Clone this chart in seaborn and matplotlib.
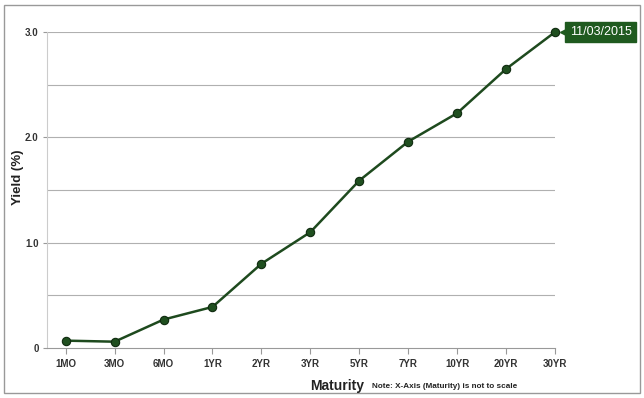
import matplotlib
matplotlib.use("Agg")
import matplotlib.pyplot as plt
import matplotlib.transforms as mtransforms
import seaborn as sns
import pandas as pd
from matplotlib.patches import Rectangle

maturities = ["1MO", "3MO", "6MO", "1YR", "2YR", "3YR", "5YR", "7YR", "10YR", "20YR", "30YR"]
yields = [0.07, 0.06, 0.27, 0.39, 0.80, 1.10, 1.59, 1.96, 2.23, 2.65, 3.00]
date_label = "11/03/2015"
y_ticks = [0, 1.0, 2.0, 3.0]
y_tick_labels = ["0", "1.0", "2.0", "3.0"]

sns.set_theme(style="white")
plt.rcParams['font.family'] = ['Liberation Sans', 'DejaVu Sans']

df = pd.DataFrame({"Maturity": maturities, "Yield": yields})
df["pos"] = range(len(df))

fig = plt.figure(figsize=(6.44, 3.98), dpi=100)
ax = fig.add_axes([0.073, 0.1256, 0.789, 0.794])

line_color = "#1e4a1e"
sns.lineplot(data=df, x="pos", y="Yield", ax=ax, color=line_color, linewidth=1.8,
             marker="o", markersize=6, markerfacecolor="#1f4f1f",
             markeredgecolor="#0f2a0f", markeredgewidth=0.8, zorder=3, clip_on=False)

ax.set_xlim(-0.38, 10.0)
ax.set_ylim(0, 3.0)
for yv in [0.5, 1.0, 1.5, 2.0, 2.5, 3.0]:
    ax.axhline(yv, color="#b0b0b0", linewidth=0.8, zorder=1)

ax.set_yticks(y_ticks)
ax.set_yticklabels(y_tick_labels, fontsize=7, fontweight="bold", color="#333333")
ax.set_xticks(df["pos"])
ax.set_xticklabels(maturities, fontsize=7, fontweight="bold", color="#333333")
ax.tick_params(axis="x", length=4, width=0.8, color="#999999", pad=4, direction="out", bottom=True)
ax.tick_params(axis="y", length=3, width=0.8, color="#999999", pad=3, direction="out", left=True)

for s in ["top", "right"]:
    ax.spines[s].set_visible(False)
ax.spines["left"].set_color("#cccccc")
ax.spines["bottom"].set_color("#999999")
ax.spines["left"].set_linewidth(0.8)
ax.spines["bottom"].set_linewidth(0.8)

ax.set_xlabel("")
ax.set_ylabel("")
fig.text(0.028, 0.555, "Yield (%)", fontsize=9.5, fontweight="bold", color="#222222",
         ha="center", va="center", rotation=90)

fig.text(0.523, 0.030, "Maturity", fontsize=10, fontweight="bold", color="#222222",
         ha="center", va="center")
fig.text(0.578, 0.030, "Note: X-Axis (Maturity) is not to scale", fontsize=5.9,
         fontweight="bold", color="#222222", ha="left", va="center")

# date label box with small pointer
last_x, last_y = df["pos"].iloc[-1], yields[-1]
ax.annotate(date_label, xy=(last_x, last_y), xytext=(10.5, 0),
            textcoords="offset points", va="center", ha="left", fontsize=9,
            color="white", annotation_clip=False, zorder=5,
            bbox=dict(boxstyle="square,pad=0.35", fc="#1f5a1f", ec="#1f5a1f"))
tri_tr = mtransforms.offset_copy(ax.transData, fig=fig, x=6.3, y=0, units="points")
ax.plot([last_x], [last_y], marker="<", markersize=6, color="#1f5a1f",
        transform=tri_tr, clip_on=False, zorder=5)

fig.patches.append(Rectangle((0.006, 0.012), 0.988, 0.975, transform=fig.transFigure,
                             fill=False, edgecolor="#999999", linewidth=1.0))

fig.savefig("out.png", dpi=100)
